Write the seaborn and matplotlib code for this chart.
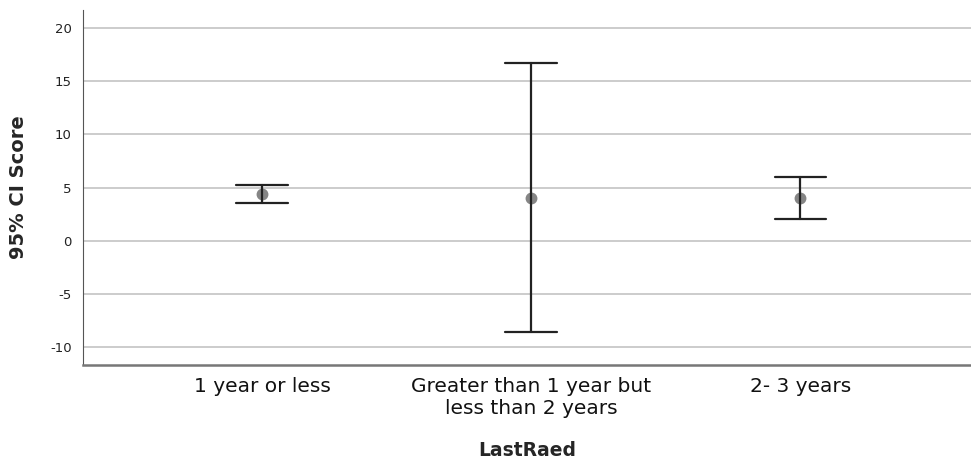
import pandas as pd
import matplotlib
matplotlib.use("Agg")
import matplotlib.pyplot as plt
import seaborn as sns

# 各组的均值与95%置信区间
groups = ["1 year or less", "Greater than 1 year but\nless than 2 years", "2- 3 years"]
means = [4.4, 4.05, 4.05]
lower = [3.55, -8.65, 2.05]
upper = [5.25, 16.75, 6.0]

# 长表：每组三行（下限、均值、上限），中位数=均值，100%区间=置信区间
rows = []
for g, lo, m, hi in zip(groups, lower, means, upper):
    for v in (lo, m, hi):
        rows.append({"LastRaed": g, "score": v})
df = pd.DataFrame(rows)

sns.set_style("white")
plt.rcParams["font.family"] = ["DejaVu Sans"]
plt.rcParams["axes.unicode_minus"] = False

fig = plt.figure(figsize=(9.71, 4.63), dpi=100)
ax = fig.add_axes([0.0855, 0.212, 0.9145, 0.766])

sns.pointplot(data=df, x="LastRaed", y="score", order=groups,
              estimator="median", errorbar=("pi", 100),
              linestyle="none", capsize=0.19, color="#858585",
              markersize=6.5, err_kws={"color": "#222222", "linewidth": 1.6},
              ax=ax)

ax.set_ylim(-11.7, 21.7)
ax.set_xlim(-0.665, 2.635)
ax.set_yticks([-10, -5, 0, 5, 10, 15, 20])
ax.yaxis.grid(True, color="#c8c8c8", linewidth=1.3)
ax.set_axisbelow(True)

for s in ["top", "right"]:
    ax.spines[s].set_visible(False)
ax.spines["left"].set_color("#555555")
ax.spines["bottom"].set_color("#777777")
ax.spines["bottom"].set_linewidth(1.8)

ax.tick_params(axis="y", length=4, color="#555555", labelsize=9.5, labelcolor="#222222", pad=4)
ax.tick_params(axis="x", length=0, labelsize=14.5, labelcolor="#111111", pad=9)

ax.set_xlabel("LastRaed", fontsize=13.5, fontweight="bold", labelpad=16)
ax.set_ylabel("95% CI Score", fontsize=14, fontweight="bold", labelpad=16)

fig.savefig("out.png", dpi=100)
